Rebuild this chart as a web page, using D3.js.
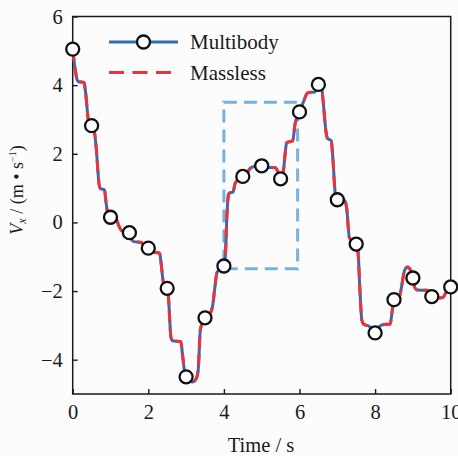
<!DOCTYPE html>
<html>
<head>
<meta charset="utf-8">
<script src="https://cdn.jsdelivr.net/npm/d3@7"></script>
<style>
  html, body { margin: 0; padding: 0; background: #fcfcfc; }
  svg { display: block; }
  svg text { font-family: "Liberation Serif", "DejaVu Serif", serif !important; fill: #1a1a1a; }
</style>
</head>
<body>
<svg id="chart" width="458" height="456"></svg>
<script>
// ---- data ----
const lineT = [0.00,0.06,0.12,0.15,0.30,0.34,0.42,0.50,0.58,0.62,0.70,0.74,0.84,0.88,0.93,1.00,
  1.15,1.22,1.30,1.50,1.56,1.62,1.80,1.90,2.00,2.08,2.30,2.34,2.40,2.50,2.53,2.60,2.64,2.86,2.90,2.96,
  3.00,3.10,3.18,3.28,3.32,3.38,3.50,3.62,3.70,3.75,3.82,4.00,4.04,4.08,4.12,4.15,4.24,4.30,4.50,
  4.62,4.70,4.80,5.00,5.10,5.35,5.42,5.50,5.58,5.62,5.66,5.82,5.88,6.00,6.10,6.18,6.22,6.40,6.50,
  6.58,6.62,6.70,6.74,6.84,6.88,6.95,7.00,7.20,7.25,7.32,7.50,7.55,7.60,7.65,7.70,7.85,8.00,8.10,
  8.20,8.40,8.45,8.50,8.62,8.68,8.78,8.86,8.93,9.00,9.05,9.12,9.38,9.50,9.70,9.80,9.90,10.00];
const multibodyV = [5.05,4.50,4.15,4.10,4.08,3.80,2.95,2.82,2.60,2.20,1.10,0.98,0.95,0.60,0.25,0.15,
  0.09,-0.10,-0.25,-0.30,-0.50,-0.56,-0.58,-0.68,-0.75,-0.86,-0.90,-1.20,-1.75,-1.92,-2.15,-3.35,-3.45,-3.47,-3.80,-4.35,
  -4.50,-4.62,-4.65,-4.52,-4.30,-3.10,-2.78,-2.68,-2.45,-2.00,-1.45,-1.27,-0.95,0.20,0.80,0.86,0.88,1.15,1.34,
  1.45,1.58,1.63,1.65,1.60,1.60,1.50,1.27,1.55,2.00,2.32,2.38,2.85,3.22,3.50,3.72,3.78,3.80,4.02,
  3.98,3.60,2.65,2.45,2.38,1.90,0.80,0.66,0.64,0.40,-0.45,-0.63,-0.90,-2.00,-2.85,-2.97,-3.03,-3.22,-3.05,
  -2.98,-2.96,-2.60,-2.25,-2.22,-2.00,-1.40,-1.30,-1.38,-1.62,-1.90,-1.97,-1.98,-2.16,-2.20,-2.18,-1.98,-1.88];
const masslessV = multibodyV.slice();
const markerT = [0,0.5,1,1.5,2,2.5,3,3.5,4,4.5,5,5.5,6,6.5,7,7.5,8,8.5,9,9.5,10];
const markerV = [5.05,2.82,0.15,-0.30,-0.75,-1.92,-4.50,-2.78,-1.27,1.34,1.65,1.27,3.22,4.02,0.66,-0.63,-3.22,-2.25,-1.62,-2.16,-1.88];
const xTicks = [0,2,4,6,8,10];
const yTicks = [-4,-2,0,2,4,6];
const zoomBoxT = [4.0, 5.95];
const zoomBoxV = [-1.35, 3.5];
const seriesNames = ["Multibody","Massless"];

// ---- layout ----
const FONT = '"Liberation Serif", "DejaVu Serif", serif';
const svg = d3.select("#chart");
const x = d3.scaleLinear().domain([0,10]).range([72.7,450.7]);
const y = d3.scaleLinear().domain([-5,6]).range([394,16.5]);
const blue = "#2f6cb5", red = "#e8343c", boxBlue = "#77b1dc";

// axes
const xAxis = d3.axisBottom(x).tickValues(xTicks).tickSizeInner(-5).tickSizeOuter(0).tickFormat(d3.format("d"));
const gx = svg.append("g").attr("transform", `translate(0,${y(-5)})`).call(xAxis).attr("font-family", FONT);
gx.select(".domain").remove();
gx.selectAll(".tick line").attr("stroke","#1a1a1a").attr("stroke-width",1.4);
gx.selectAll(".tick text").attr("y",25).attr("dy",0).style("font-size","20.5px").style("font-family",FONT).attr("fill","#1a1a1a");

const yAxis = d3.axisLeft(y).tickValues(yTicks).tickSizeInner(-5).tickSizeOuter(0).tickPadding(10).tickFormat(d3.format("d"));
const gy = svg.append("g").attr("transform", `translate(${x(0)},0)`).call(yAxis).attr("font-family", FONT);
gy.select(".domain").remove();
gy.selectAll(".tick line").attr("stroke","#1a1a1a").attr("stroke-width",1.4);
gy.selectAll(".tick text").style("font-size","20.5px").style("font-family",FONT).attr("fill","#1a1a1a");

// frame
svg.append("rect").attr("x",x(0)).attr("y",y(6)).attr("width",x(10)-x(0)).attr("height",y(-5)-y(6))
  .attr("fill","none").attr("stroke","#1a1a1a").attr("stroke-width",1.5);

// zoom box
svg.append("rect").attr("x",x(zoomBoxT[0])).attr("y",y(zoomBoxV[1]))
  .attr("width",x(zoomBoxT[1])-x(zoomBoxT[0])).attr("height",y(zoomBoxV[0])-y(zoomBoxV[1]))
  .attr("fill","none").attr("stroke",boxBlue).attr("stroke-width",3).attr("stroke-dasharray","13,7");

// lines
const line = d3.line().x(d=>x(d[0])).y(d=>y(d[1])).curve(d3.curveMonotoneX);
const mbData = lineT.map((t,i)=>[t,multibodyV[i]]);
const mlData = lineT.map((t,i)=>[t,masslessV[i]]);
svg.append("path").attr("d",line(mbData)).attr("fill","none").attr("stroke",blue).attr("stroke-width",3).attr("stroke-linejoin","round");
svg.append("path").attr("d",line(mlData)).attr("fill","none").attr("stroke",red).attr("stroke-width",3).attr("stroke-dasharray","12,5");

// markers
svg.append("g").selectAll("circle").data(markerT.map((t,i)=>[t,markerV[i]])).join("circle")
  .attr("cx",d=>x(d[0])).attr("cy",d=>y(d[1])).attr("r",6.5)
  .attr("fill","#ffffff").attr("stroke","#111").attr("stroke-width",2.3);

// legend
const lg = svg.append("g");
lg.append("line").attr("x1",109).attr("x2",178).attr("y1",42).attr("y2",42).attr("stroke",blue).attr("stroke-width",3);
lg.append("circle").attr("cx",143.5).attr("cy",42).attr("r",6.5).attr("fill","#fff").attr("stroke","#111").attr("stroke-width",2.3);
lg.append("text").attr("x",190).attr("y",49).style("font-size","21px").style("font-family",FONT).text(seriesNames[0]);
lg.append("line").attr("x1",109).attr("x2",178).attr("y1",72.5).attr("y2",72.5).attr("stroke",red).attr("stroke-width",3).attr("stroke-dasharray","15,8.5");
lg.append("text").attr("x",190).attr("y",80).style("font-size","21px").style("font-family",FONT).text(seriesNames[1]);

// axis titles
svg.append("text").attr("x",261).attr("y",452).attr("text-anchor","middle").style("font-size","20.5px").style("font-family",FONT).text("Time / s");
const yl = svg.append("text").attr("transform","translate(23,190) rotate(-90)").attr("text-anchor","middle")
  .style("font-size","18px").style("font-family",FONT);
yl.append("tspan").attr("font-style","italic").text("V");
yl.append("tspan").attr("font-style","italic").attr("dy","3").style("font-size","12px").text("x");
yl.append("tspan").attr("dy","-3").text(" / (m • s");
yl.append("tspan").attr("dy","-7").style("font-size","10px").text("−1");
yl.append("tspan").attr("dy","7").text(")");
</script>
</body>
</html>
